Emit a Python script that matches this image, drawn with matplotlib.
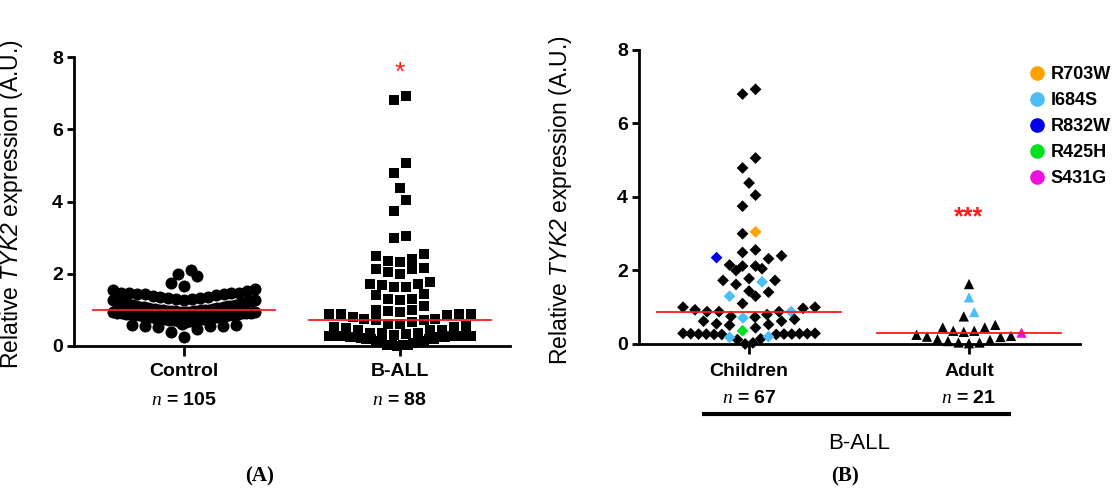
import numpy as np
import matplotlib.pyplot as plt
from matplotlib.lines import Line2D

plt.rcParams['font.family'] = ['Liberation Sans', 'DejaVu Sans']
plt.rcParams['mathtext.fontset'] = 'custom'
plt.rcParams['mathtext.it'] = 'Liberation Serif:italic'
plt.rcParams['mathtext.sf'] = 'Liberation Sans:italic'
plt.rcParams['mathtext.rm'] = 'Liberation Sans'

# ---- data ----
groups_a = ['Control', 'B-ALL']
n_a = [105, 88]
groups_b = ['Children', 'Adult']
n_b = [67, 21]

control = [2.10, 2.00, 1.95, 1.75, 1.65, 1.58, 1.55, 1.53, 1.48, 1.47,
           1.46, 1.46, 1.45, 1.45, 1.44,
           0.99, 0.99, 1.00, 1.00, 1.01, 1.02, 1.02, 1.03, 1.04, 1.05,
           1.06, 1.07, 1.08, 1.09, 1.10, 1.11, 1.12, 1.13, 1.14, 1.15,
           1.16, 1.18, 1.19, 1.20, 1.22, 1.23, 1.24, 1.26, 1.27, 1.28,
           1.30, 1.31, 1.33, 1.34, 1.35, 1.36, 1.38, 1.40,
           0.66, 0.68, 0.70, 0.71, 0.72, 0.73, 0.74, 0.75, 0.76, 0.77,
           0.78, 0.78, 0.79, 0.80, 0.81, 0.82, 0.82, 0.83, 0.84, 0.85,
           0.86, 0.86, 0.87, 0.88, 0.88, 0.89, 0.90, 0.90, 0.91, 0.92,
           0.92, 0.93, 0.93, 0.94, 0.94, 0.95, 0.95, 0.96, 0.96, 0.97,
           0.97, 0.97,
           0.60, 0.58, 0.58, 0.56, 0.55, 0.55, 0.52, 0.46, 0.40, 0.26]

children = [6.93, 6.80, 5.06, 4.79, 4.38, 4.05, 3.75, 3.05, 3.00, 2.56,
            2.49, 2.32, 2.35, 2.40, 2.12, 2.05, 2.00, 2.12, 2.15, 1.78,
            1.73, 1.62, 1.69, 1.73, 1.41, 1.30, 1.30, 1.44, 0.97, 0.88,
            0.88, 1.00, 1.10, 1.00, 0.88, 0.88, 0.93, 0.67, 0.62, 0.53,
            0.44, 0.80, 0.73, 0.75, 0.51, 0.55, 0.62, 0.71, 0.36, 0.26,
            0.27, 0.28, 0.27, 0.29, 0.26, 0.28, 0.27, 0.29, 0.28, 0.27,
            0.26, 0.14, 0.12, 0.18, 0.20, 0.00, 0.03]
children_mut = ['', '', '', '', '', '', '', 'R703W', '', '',
                '', '', 'R832W', '', '', '', '', '', '', '',
                '', '', 'I684S', '', '', '', 'I684S', '', '', '',
                '', '', '', '', '', 'I684S', '', '', '', '',
                '', '', '', '', '', '', '', 'I684S', 'R425H', '',
                '', '', '', '', '', '', '', '', '', '',
                '', '', '', 'I684S', 'I684S', '', '']

adult = [1.63, 1.27, 0.87, 0.75, 0.45, 0.45, 0.52, 0.36, 0.33, 0.22,
         0.19, 0.11, 0.04, 0.02, 0.04, 0.08, 0.13, 0.20, 0.25, 0.31, 0.36]
adult_mut = ['', 'I684S', 'I684S', '', '', '', '', '', '', '',
             '', '', '', '', '', '', '', '', '', 'S431G', '']

b_all = children + adult

mutations = ['R703W', 'I684S', 'R832W', 'R425H', 'S431G']
mut_colors = {'': 'black', 'R703W': '#FFA200', 'I684S': '#4DBEF5',
              'R832W': '#0000EE', 'R425H': '#00E020', 'S431G': '#EE10DD'}


def swarm_x(ax, center, values, row_px, step_px, max_px):
    # GraphPad-like layout: rows of close values, lowest in the middle
    values = np.asarray(values, dtype=float)
    p0 = ax.transData.transform((0, 0))
    p1 = ax.transData.transform((1, 1))
    h = row_px / (p1[1] - p0[1])
    order = np.argsort(values, kind='stable')
    offs = np.zeros(len(values))
    i = 0
    while i < len(order):
        j = i
        while j < len(order) and values[order[j]] - values[order[i]] < h:
            j += 1
        idx = order[i:j]
        n = len(idx)
        step = min(step_px, max_px / max(n - 1, 1))
        slots = (np.arange(n) - (n - 1) / 2) * step
        slots = slots[np.argsort(np.abs(slots), kind='stable')]
        offs[idx] = slots
        i = j
    return center + offs / (p1[0] - p0[0])


def style_axes(ax):
    for s in ['top', 'right']:
        ax.spines[s].set_visible(False)
    for s in ['left', 'bottom']:
        ax.spines[s].set_linewidth(2)
    ax.set_ylim(0, 8)
    ax.set_yticks([0, 2, 4, 6, 8])
    ax.tick_params(axis='y', length=5, width=2, pad=3, labelsize=14)
    ax.tick_params(axis='x', length=7, width=2, labelbottom=False)
    for lab in ax.get_yticklabels():
        lab.set_fontweight('bold')
    ax.set_ylabel('Relative $\\mathsf{TYK2}$ expression (A.U.)', fontsize=16.5)


fig = plt.figure(figsize=(11.18, 4.88), dpi=100)

# ---- panel A ----
axA = fig.add_axes([0.0662, 0.291, 0.390, 0.592])
axA.set_xlim(-0.51, 1.51)
axA.set_xticks([0, 1])
style_axes(axA)
axA.yaxis.set_label_coords(-0.112, 0.49)

xc = swarm_x(axA, 0, control, 12, 13, 142)
axA.scatter(xc, control, s=75, marker='o', color='black', linewidths=0,
            clip_on=False, zorder=3)
xb = swarm_x(axA, 1, b_all, 11, 12, 142)
axA.scatter(xb, b_all, s=58, marker='s', color='black', linewidths=0,
            clip_on=False, zorder=3)
for k, vals in enumerate([control, b_all]):
    axA.plot([k - 0.42, k + 0.42], [np.median(vals)] * 2, color='#FF1A1A',
             lw=1.3, zorder=4)
axA.text(1, 7.55, '*', color='#FF1A1A', fontsize=19, ha='center', va='center')

tr = axA.get_xaxis_transform()
for k, (g, n) in enumerate(zip(groups_a, n_a)):
    axA.text(k, -0.09, g, transform=tr, ha='center', va='center',
             fontsize=14, fontweight='bold')
    axA.text(k, -0.19, '$n$ = %d' % n, transform=tr, ha='center',
             va='center', fontsize=14, fontweight='bold')

# ---- panel B ----
axB = fig.add_axes([0.5716, 0.2951, 0.3945, 0.6025])
axB.set_xlim(-0.5, 1.505)
axB.set_xticks([0, 1])
style_axes(axB)
axB.yaxis.set_label_coords(-0.147, 0.49)

xch = swarm_x(axB, 0, children, 12, 13, 132)
axB.scatter(xch, children, s=36, marker='D',
            color=[mut_colors[m] for m in children_mut], linewidths=0,
            clip_on=False, zorder=3)
xad = swarm_x(axB, 1, adult, 11, 10.5, 134)
axB.scatter(xad, adult, s=55, marker='^',
            color=[mut_colors[m] for m in adult_mut], linewidths=0,
            clip_on=False, zorder=3)
for k, vals in enumerate([children, adult]):
    axB.plot([k - 0.42, k + 0.42], [np.median(vals)] * 2, color='#FF1A1A',
             lw=1.3, zorder=4)
axB.text(1, 3.45, '***', color='#FF1A1A', fontsize=18, fontweight='bold',
         ha='center', va='center')

trB = axB.get_xaxis_transform()
for k, (g, n) in enumerate(zip(groups_b, n_b)):
    axB.text(k, -0.092, g, transform=trB, ha='center', va='center',
             fontsize=14, fontweight='bold')
    axB.text(k, -0.187, '$n$ = %d' % n, transform=trB, ha='center',
             va='center', fontsize=14, fontweight='bold')
axB.plot([-0.214, 1.191], [-0.238, -0.238], transform=trB, color='black',
         lw=3, solid_capstyle='butt', clip_on=False)
axB.text(0.5, -0.337, 'B-ALL', transform=trB, ha='center', va='center',
         fontsize=16)

handles = [Line2D([], [], marker='o', ls='', color=mut_colors[m],
                  markersize=9.5) for m in mutations]
fig.legend(handles, mutations, loc='upper left',
           bbox_to_anchor=(1028 / 1118, 1 - 66 / 488), frameon=False,
           handlelength=0.95, handletextpad=0.3, labelspacing=0.5,
           borderpad=0, borderaxespad=0,
           prop={'size': 13, 'weight': 'bold'})

fig.text(260 / 1118, 1 - 476 / 488, '(A)', family='Liberation Serif',
         fontweight='bold', fontsize=15, ha='center', va='center')
fig.text(845 / 1118, 1 - 476 / 488, '(B)', family='Liberation Serif',
         fontweight='bold', fontsize=15, ha='center', va='center')

fig.savefig('out.png', dpi=100)
